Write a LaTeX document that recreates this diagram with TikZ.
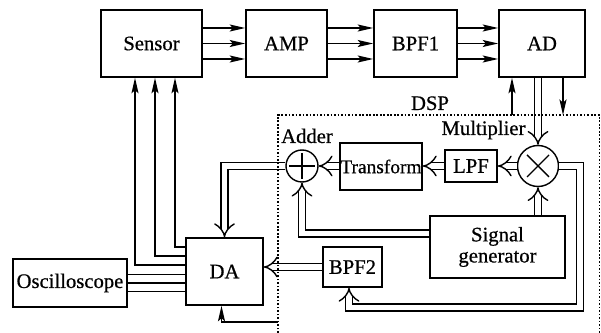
\documentclass[tikz,border=0pt]{standalone}
\usepackage{fontspec}
\setmainfont{Liberation Serif}[FakeBold=0.6]
\usetikzlibrary{arrows.meta}

\begin{document}
\begin{tikzpicture}[
    x=0.025cm, y=-0.025cm,
    font=\fontsize{14.7}{15}\selectfont,
    block/.style 2 args={draw, line width=1.2pt, minimum width=#1*0.025cm, minimum height=#2*0.025cm, inner sep=0pt},
    sum_node/.style={circle, draw, line width=1pt, minimum size=#1*0.025cm, inner sep=0pt},
    sig_arrow/.style={line width=1.1pt, -{Stealth[length=11pt, width=5pt, inset=2.2pt]}},
    dbl_arrow/.style={double, line width=1pt, double distance=4.2pt, -{Implies[length=4.5pt]}},
    dsp_border/.style={line width=1.2pt, dash pattern=on 1.2pt off 1.3pt}
]

% Paso de un pixel de la imagen original
\def\pxu{0.025cm}

% Marco de la figura
\useasboundingbox (0,0) rectangle (601,333);

% ==========================
% CADENA SUPERIOR
% ==========================
\node[block={101}{67}] (sensor) at (151.5,43.5) {Sensor};
\node[block={81}{67}] (amp) at (286.5,43.5) {AMP};
\node[block={83}{67}] (bpf1) at (415.5,43.5) {BPF1};
\node[block={86}{67}] (ad) at (542,43.5) {AD};

% Tres canales entre bloques
\foreach \a/\b in {sensor/amp, amp/bpf1, bpf1/ad} {
    \foreach \d in {15.5,0,-15.5} {
        \draw[sig_arrow] ([yshift=\d*\pxu]\a.east) -- ([yshift=\d*\pxu]\b.west);
    }
}

% ==========================
% BLOQUES INFERIORES
% ==========================
\node[block={77}{67}] (da) at (224.5,271.5) {DA};
\node[block={114}{48}] (osc) at (70,283) {Oscilloscope};
\node[block={59}{40}] (bpf2) at (352.5,267) {BPF2};
\node[block={135}{62}, align=center] (siggen) at (497.5,247) {Signal\\generator};
\node[block={82}{47}, font=\fontsize{13.8}{15}\selectfont] (transform) at (381,166.5) {Transform};
\node[block={52}{32}] (lpf) at (471,166) {LPF};

% Sumador y multiplicador
\node[sum_node=32] (adder) at (302,166) {};
\node[sum_node=41] (mult) at (538,166) {};
\draw[line width=1pt] (adder.center) +(-13,0) -- +(13,0) +(0,-13) -- +(0,13);
\draw[line width=1pt] (mult.center) +(-11,-11) -- +(11,11) +(-11,11) -- +(11,-11);

\node[anchor=base] (adder_lbl) at (307,143) {Adder};
\node[anchor=base] (mult_lbl) at (483.5,135) {Multiplier};
\node[anchor=base] (dsp_lbl) at (430,110) {DSP};

% ==========================
% CONEXIONES SIMPLES
% ==========================
% DA hacia el sensor
\foreach \xs/\ys in {23.5/24.5, 3.5/15.5, -16.5/6.5} {
    \draw[sig_arrow] ([yshift=\ys*\pxu]da.west) -| ([xshift=\xs*\pxu]sensor.south);
}

% Osciloscopio
\foreach \d in {8.5,0,-8.5} {
    \draw[line width=1.1pt] ([yshift=\d*\pxu]osc.east) coordinate (o) -- (o -| da.west);
}

% Entradas y salidas del DSP
\coordinate (ad_in) at (512,115);
\coordinate (ad_out) at (563,115);
\coordinate (dsp_out) at (278,322);
\draw[sig_arrow] (ad_in) -- (ad_in |- ad.south);
\draw[sig_arrow] (ad_out |- ad.south) -- (ad_out);
\draw[sig_arrow] (dsp_out) -| ([xshift=-3*\pxu]da.south);

% ==========================
% CONEXIONES DOBLES
% ==========================
\coordinate (mult_down) at (580,307.5);
\draw[dbl_arrow] (mult.north |- ad.south) -- (mult.north);
\draw[dbl_arrow] (mult.west) -- (lpf.east);
\draw[dbl_arrow] (lpf.west) -- (transform.east |- lpf.west);
\draw[dbl_arrow] (transform.west |- adder.east) -- (adder.east);
\draw[dbl_arrow] (adder.west) -| (da.north);
\draw[dbl_arrow] (mult.south |- siggen.north) -- (mult.south);
\draw[dbl_arrow] ([yshift=13.5*\pxu]siggen.west) -| (adder.south);
\draw[dbl_arrow] (mult.east) -| (mult_down) -| ([xshift=-3.5*\pxu]bpf2.south);
\draw[dbl_arrow] (bpf2.west) -- (bpf2.west -| da.east);

% ==========================
% RECUADRO DSP
% ==========================
\coordinate (dsp_bl) at (278,333);
\coordinate (dsp_tl) at (278,115);
\coordinate (dsp_tr) at (599.5,115);
\coordinate (dsp_br) at (599.5,333);
\draw[dsp_border] (dsp_bl) -- (dsp_tl) -- (dsp_tr) -- (dsp_br);

\end{tikzpicture}
\end{document}
